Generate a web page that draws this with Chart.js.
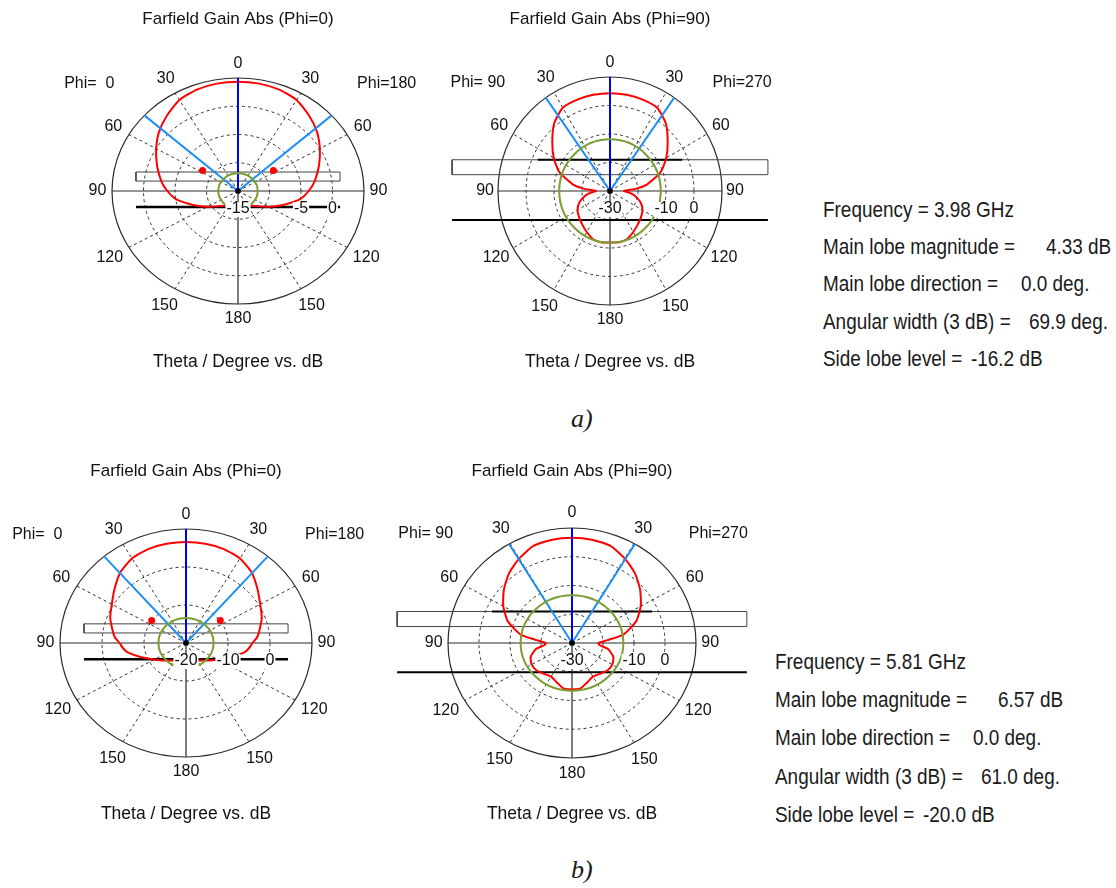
<!DOCTYPE html>
<html>
<head>
<meta charset="utf-8">
<script src="https://cdn.jsdelivr.net/npm/chart.js@4.4.1/dist/chart.umd.min.js"></script>
<style>
    body {
        margin: 0;
        width: 1116px;
        height: 888px;
        background: #fff;
        position: relative;
        overflow: hidden;
        font-family: "Liberation Sans", Arial, sans-serif;
        color: #1a1a1a;
    }
    canvas {
        position: absolute;
    }
    .info {
        position: absolute;
        font-size: 22px;
        line-height: 22px;
        white-space: pre;
        transform: scaleX(0.86);
        transform-origin: left top;
    }
    .caption {
        position: absolute;
        font-family: "Liberation Serif", "Times New Roman", serif;
        font-style: italic;
        font-size: 26px;
        line-height: 26px;
    }
</style>
</head>
<body>
<script>
// theta (deg) where the gain was read, same steps for both halves of a cut
const thetaDeg = [0, 10, 20, 30, 40, 50, 60, 70, 80, 85, 90, 95, 100, 110, 120, 130, 140, 150, 160, 170, 180];

// a) 3.98 GHz, gain in dB
const gainA_phi0 = [4.33, 4.3, 4.1, 3.6, 2.5, 1.35, 0.0, -1.3, -2.5, -3.1, -3.8, -4.5, -5.4, -7.6, -9.4, -10.8, -11.6, -12.1, -12.7, -12.5, -12.4];
const gainA_phi90 = [4.33, 4.3, 4.1, 3.7, 1.0, -3.1, -6.8, -10.8, -16.5, -20.5, -25.0, -23.0, -21.2, -18.4, -16.6, -15.6, -14.6, -13.4, -12.1, -11.7, -11.9];
// b) 5.81 GHz, gain in dB
const gainB_phi0 = [6.57, 6.5, 6.3, 5.7, 4.3, 2.2, 0.4, -0.8, -2.3, -3.0, -4.2, -4.9, -5.9, -8.9, -11.3, -12.8, -14.0, -14.6, -15.2, -15.5, -14.6];
const gainB_phi90 = [6.57, 6.5, 6.0, 4.0, 1.6, -1.3, -4.4, -8.0, -13.2, -18.5, -21.5, -21.0, -18.2, -15.8, -15.0, -15.1, -16.0, -16.5, -15.5, -14.0, -13.8];

// radial axis: [centre, outer] in dB, dashed rings, ring labels
const rangeA_phi0 = [-15, 5], ringsA_phi0 = [-10, -5, 0], ringTicksA_phi0 = [-15, -5, 0];
const rangeA_phi90 = [-30, 10], ringsA_phi90 = [-20, -10, 0], ringTicksA_phi90 = [-30, -10, 0];
const rangeB_phi0 = [-20, 10], ringsB_phi0 = [-10, 0], ringTicksB_phi0 = [-20, -10, 0];
const rangeB_phi90 = [-30, 10], ringsB_phi90 = [-20, -10, 0], ringTicksB_phi90 = [-30, -10, 0];

// main lobe direction, 3 dB half width (deg) and side lobe threshold (dB)
const mainDirDeg = [0, 0, 0, 0];
const halfBeamDeg = [48, 35, 40.5, 30.5];
const sideLobeDb = [4.33 - 16.2, 4.33 - 16.2, 6.57 - 20.0, 6.57 - 20.0];

// small red side lobe bumps on the phi=0 cuts [theta, dB]
const bumpA_phi0 = [57, -8.3];
const bumpB_phi0 = [54, -9.9];

const angleTicks = [0, 30, 60, 90, 120, 150, 180];

// summary text
const infoLabels = ["Main lobe magnitude =", "Main lobe direction =", "Angular width (3 dB) =", "Side lobe level ="];
const infoA = ["Frequency = 3.98 GHz", "4.33 dB", "0.0 deg.", "69.9 deg.", "-16.2 dB"];
const infoB = ["Frequency = 5.81 GHz", "6.57 dB", "0.0 deg.", "61.0 deg.", "-20.0 dB"];

// antenna outline drawn in the plots, in radius units
const slabPhi0 = [[-0.81, 0.088], [0.81, 0.088], [0.81, 0.168], [-0.81, 0.168], [-0.81, 0.088]];
const groundPhi0 = [[-0.81, -0.142], [0.81, -0.142]];
const slabPhi90 = [[-1.41, 0.143], [1.41, 0.143], [1.41, 0.274], [-1.41, 0.274], [-1.41, 0.143]];
const patchPhi90 = [[-0.645, 0.274], [0.645, 0.274]];
const groundPhi90 = [[-1.41, -0.255], [1.41, -0.255]];

const PADX = 75, PADY = 80;
const rad = (d) => (d * Math.PI) / 180;

const plots = [
    { cx: 238, cy: 191, rx: 126, ry: 113, title: "Farfield Gain Abs (Phi=0)", phiL: "Phi=  0", phiR: "Phi=180",
      gain: gainA_phi0, range: rangeA_phi0, rings: ringsA_phi0, ticks: ringTicksA_phi0, k: 0, bump: bumpA_phi0,
      slab: slabPhi0, patch: null, ground: groundPhi0, groundW: 2.5 },
    { cx: 610, cy: 191, rx: 112, ry: 114, title: "Farfield Gain Abs (Phi=90)", phiL: "Phi= 90", phiR: "Phi=270",
      gain: gainA_phi90, range: rangeA_phi90, rings: ringsA_phi90, ticks: ringTicksA_phi90, k: 1, bump: null,
      slab: slabPhi90, patch: patchPhi90, ground: groundPhi90, groundW: 2 },
    { cx: 186, cy: 643, rx: 126, ry: 114, title: "Farfield Gain Abs (Phi=0)", phiL: "Phi=  0", phiR: "Phi=180",
      gain: gainB_phi0, range: rangeB_phi0, rings: ringsB_phi0, ticks: ringTicksB_phi0, k: 2, bump: bumpB_phi0,
      slab: slabPhi0, patch: null, ground: groundPhi0, groundW: 2.5 },
    { cx: 572, cy: 643, rx: 124, ry: 115, title: "Farfield Gain Abs (Phi=90)", phiL: "Phi= 90", phiR: "Phi=270",
      gain: gainB_phi90, range: rangeB_phi90, rings: ringsB_phi90, ticks: ringTicksB_phi90, k: 3, bump: null,
      slab: slabPhi90, patch: patchPhi90, ground: groundPhi90, groundW: 2 },
];

function norm(db, range) {
    return Math.max(0, (db - range[0]) / (range[1] - range[0]));
}

function polar(side, th, r) {
    return { x: side * r * Math.sin(rad(th)), y: r * Math.cos(rad(th)) };
}

function patternPoints(gain, range) {
    const pts = [];
    // left half (phi=0 / 90) from 180 up to 0, then right half back down
    for (let i = thetaDeg.length - 1; i >= 0; i--) pts.push(polar(-1, thetaDeg[i], norm(gain[i], range)));
    for (let i = 1; i < thetaDeg.length; i++) pts.push(polar(1, thetaDeg[i], norm(gain[i], range)));
    return pts;
}

const xy = (list) => list.map((p) => ({ x: p[0], y: p[1] }));

function polarDeco(p) {
    return {
        id: "polarDeco",
        beforeDatasetsDraw(chart) {
            const ctx = chart.ctx;
            const X = (v) => chart.scales.x.getPixelForValue(v);
            const Y = (v) => chart.scales.y.getPixelForValue(v);
            const cx = X(0), cy = Y(0), rxp = X(1) - cx, ryp = cy - Y(1);
            ctx.save();
            ctx.strokeStyle = "#333";
            ctx.lineWidth = 1;
            ctx.setLineDash([3, 3]);
            p.rings.forEach((db) => {
                const r = norm(db, p.range);
                ctx.beginPath();
                ctx.ellipse(cx, cy, r * rxp, r * ryp, 0, 0, 2 * Math.PI);
                ctx.stroke();
            });
            [30, 60, 120, 150].forEach((a) => {
                [-1, 1].forEach((s) => {
                    ctx.beginPath();
                    ctx.moveTo(cx, cy);
                    ctx.lineTo(X(s * Math.sin(rad(a))), Y(Math.cos(rad(a))));
                    ctx.stroke();
                });
            });
            ctx.setLineDash([]);
            ctx.strokeStyle = "#2a2a2a";
            ctx.lineWidth = 1.2;
            ctx.beginPath();
            ctx.ellipse(cx, cy, rxp, ryp, 0, 0, 2 * Math.PI);
            ctx.stroke();
            ctx.beginPath();
            ctx.moveTo(X(-1), cy);
            ctx.lineTo(X(1), cy);
            ctx.moveTo(cx, cy);
            ctx.lineTo(cx, Y(-1));
            ctx.stroke();
            ctx.restore();
        },
        afterDatasetsDraw(chart) {
            const ctx = chart.ctx;
            const X = (v) => chart.scales.x.getPixelForValue(v);
            const Y = (v) => chart.scales.y.getPixelForValue(v);
            const cx = X(0), cy = Y(0), rxp = X(1) - cx, ryp = cy - Y(1);
            ctx.save();
            // side lobe level circle
            const rs = norm(sideLobeDb[p.k], p.range);
            ctx.strokeStyle = "#7a9e32";
            ctx.lineWidth = 2;
            ctx.beginPath();
            ctx.ellipse(cx, cy, rs * rxp, rs * ryp, 0, 0, 2 * Math.PI);
            ctx.stroke();
            // centre dot
            ctx.fillStyle = "#000";
            ctx.beginPath();
            ctx.arc(cx, cy, 2.8, 0, 2 * Math.PI);
            ctx.fill();

            ctx.font = '16px "Liberation Sans", Arial, sans-serif';
            ctx.textAlign = "center";
            ctx.textBaseline = "middle";
            // dB labels with white box
            p.ticks.forEach((db) => {
                const x = X(norm(db, p.range));
                const t = String(db);
                const w = ctx.measureText(t).width;
                ctx.fillStyle = "#fff";
                ctx.fillRect(x - w / 2 - 1, cy + 11, w + 2, 15);
                ctx.fillStyle = "#111";
                ctx.fillText(t, x, cy + 18);
            });
            // angle labels
            ctx.fillStyle = "#111";
            const lr = { 0: 1.13, 30: 1.148, 60: 1.143, 90: 1.115, 120: 1.175, 150: 1.167, 180: 1.132 };
            angleTicks.forEach((a) => {
                const sides = a === 0 || a === 180 ? [1] : [-1, 1];
                sides.forEach((s) => {
                    const q = polar(s, a, lr[a]);
                    ctx.fillText(String(a), X(q.x), Y(q.y));
                });
            });
            ctx.fillText(p.phiL, X(-1.18), Y(0.95));
            ctx.fillText(p.phiR, X(1.18), Y(0.95));
            ctx.font = '17px "Liberation Sans", Arial, sans-serif';
            ctx.fillText(p.title, cx, cy - 172);
            ctx.font = '17.5px "Liberation Sans", Arial, sans-serif';
            ctx.fillText("Theta / Degree vs. dB", cx, cy + 171);
            ctx.restore();
        },
    };
}

plots.forEach((p) => {
    const cv = document.createElement("canvas");
    const W = Math.round(2 * p.rx + 2 * PADX), H = Math.round(2 * p.ry + 2 * PADY);
    cv.width = W;
    cv.height = H;
    cv.style.width = W + "px";
    cv.style.height = H + "px";
    cv.style.left = p.cx - p.rx - PADX + "px";
    cv.style.top = p.cy - p.ry - PADY + "px";
    document.body.appendChild(cv);

    const h = halfBeamDeg[p.k], d = mainDirDeg[p.k];
    const datasets = [
        {
            data: [{ x: 0, y: 0 }, polar(1, d, 1)],
            borderColor: "#0000f5", borderWidth: 2, order: 2,
        },
        {
            data: [polar(-1, d + h, 1), { x: 0, y: 0 }, polar(1, d + h, 1)],
            borderColor: "#1e8ff5", borderWidth: 2, order: 3,
        },
        {
            data: patternPoints(p.gain, p.range),
            borderColor: "#ff0000", borderWidth: 2, tension: 0.2, order: 4,
        },
        { data: xy(p.slab), borderColor: "#444", borderWidth: 1, order: 6 },
        { data: xy(p.ground), borderColor: "#000", borderWidth: p.groundW, order: 5 },
    ];
    if (p.patch) datasets.push({ data: xy(p.patch), borderColor: "#000", borderWidth: 2, order: 5 });
    if (p.bump) {
        const r = norm(p.bump[1], p.range);
        datasets.push({
            data: [polar(-1, p.bump[0], r), polar(1, p.bump[0], r)],
            showLine: false, pointRadius: 3.5, pointBackgroundColor: "#ff0000",
            pointBorderWidth: 0, order: 1,
        });
    }
    datasets.forEach((ds) => {
        if (ds.showLine === undefined) ds.showLine = true;
        if (ds.pointRadius === undefined) ds.pointRadius = 0;
        ds.clip = false;
        ds.fill = false;
    });

    new Chart(cv, {
        type: "scatter",
        data: { datasets },
        options: {
            responsive: false,
            animation: false,
            events: [],
            devicePixelRatio: 1,
            layout: { padding: { left: PADX, right: PADX, top: PADY, bottom: PADY } },
            scales: {
                x: { type: "linear", min: -1, max: 1, display: false },
                y: { type: "linear", min: -1, max: 1, display: false },
            },
            plugins: { legend: { display: false }, tooltip: { enabled: false } },
        },
        plugins: [polarDeco(p)],
    });
});

// summary text blocks
const valueOffsets = [222.5, 197.5, 206, 147.5];
function infoBlock(vals, x, base, step) {
    const rows = [[vals[0], 0, 0]];
    infoLabels.forEach((lab, i) => {
        rows.push([lab, 0, i + 1]);
        rows.push([vals[i + 1], valueOffsets[i], i + 1]);
    });
    rows.forEach(([t, dx, row]) => {
        const el = document.createElement("div");
        el.className = "info";
        el.textContent = t;
        el.style.left = x + dx + "px";
        el.style.top = base + row * step - 18.6 + "px";
        document.body.appendChild(el);
    });
}
infoBlock(infoA, 823, 217.3, 37.35);
infoBlock(infoB, 775, 669.3, 38.3);

[["a)", 571, 428], ["b)", 571, 879]].forEach(([t, x, b]) => {
    const el = document.createElement("div");
    el.className = "caption";
    el.textContent = t;
    el.style.left = x + "px";
    el.style.top = b - 21.8 + "px";
    document.body.appendChild(el);
});
</script>
</body>
</html>
